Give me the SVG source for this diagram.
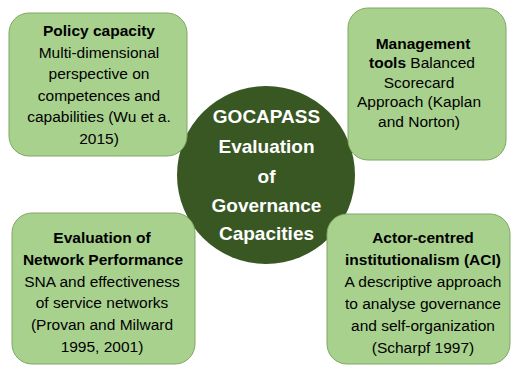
<svg xmlns="http://www.w3.org/2000/svg" width="511" height="365" viewBox="0 0 511 365">
  <style>
    .box { fill: #A9D18E; stroke: #7FA864; stroke-width: 1; }
    .hub { fill: #385723; }
    .t { font-family: "Liberation Sans", Arial, sans-serif; font-size: 15.5px; fill: #000; text-anchor: middle; }
    .b { font-weight: bold; }
    .h { font-family: "Liberation Sans", Arial, sans-serif; font-size: 19px; font-weight: bold; fill: #ffffff; text-anchor: middle; }
  </style>
  <rect width="511" height="365" fill="#ffffff"/>
  <g id="connectors"></g>
  <g id="hub">
    <circle class="hub" cx="266" cy="175" r="89"/>
    <text class="h" x="266.5" y="123">GOCAPASS</text>
    <text class="h" x="266.5" y="153">Evaluation</text>
    <text class="h" x="266.5" y="183">of</text>
    <text class="h" x="266.5" y="212">Governance</text>
    <text class="h" x="266.5" y="240">Capacities</text>
  </g>
  <g id="policy-capacity">
    <rect class="box" x="9" y="13" width="178" height="143" rx="20"/>
    <text class="t b" x="99" y="36">Policy capacity</text>
    <text class="t" x="99" y="57.5">Multi-dimensional</text>
    <text class="t" x="99" y="79">perspective on</text>
    <text class="t" x="99" y="100.5">competences and</text>
    <text class="t" x="99" y="122">capabilities (Wu et a.</text>
    <text class="t" x="99" y="143.5">2015)</text>
  </g>
  <g id="management-tools">
    <rect class="box" x="348" y="8" width="158" height="152" rx="20"/>
    <text class="t b" x="423" y="49">Management</text>
    <text class="t" x="422" y="68"><tspan class="b">tools</tspan> Balanced</text>
    <text class="t" x="419" y="87.5">Scorecard</text>
    <text class="t" x="419" y="107">Approach (Kaplan</text>
    <text class="t" x="419" y="126.5">and Norton)</text>
  </g>
  <g id="network-performance">
    <rect class="box" x="12" y="213" width="183" height="151" rx="20"/>
    <text class="t b" x="102" y="243">Evaluation of</text>
    <text class="t b" x="103" y="264.5">Network Performance</text>
    <text class="t" x="102" y="286.5">SNA and effectiveness</text>
    <text class="t" x="102" y="308">of service networks</text>
    <text class="t" x="102" y="330">(Provan and Milward</text>
    <text class="t" x="102" y="352">1995, 2001)</text>
  </g>
  <g id="aci">
    <rect class="box" x="327" y="214" width="183" height="150" rx="20"/>
    <text class="t b" x="423" y="243">Actor-centred</text>
    <text class="t b" x="423" y="265">institutionalism (ACI)</text>
    <text class="t" x="423" y="287">A descriptive approach</text>
    <text class="t" x="423" y="309">to analyse governance</text>
    <text class="t" x="423" y="331">and self-organization</text>
    <text class="t" x="423" y="353">(Scharpf 1997)</text>
  </g>
</svg>
